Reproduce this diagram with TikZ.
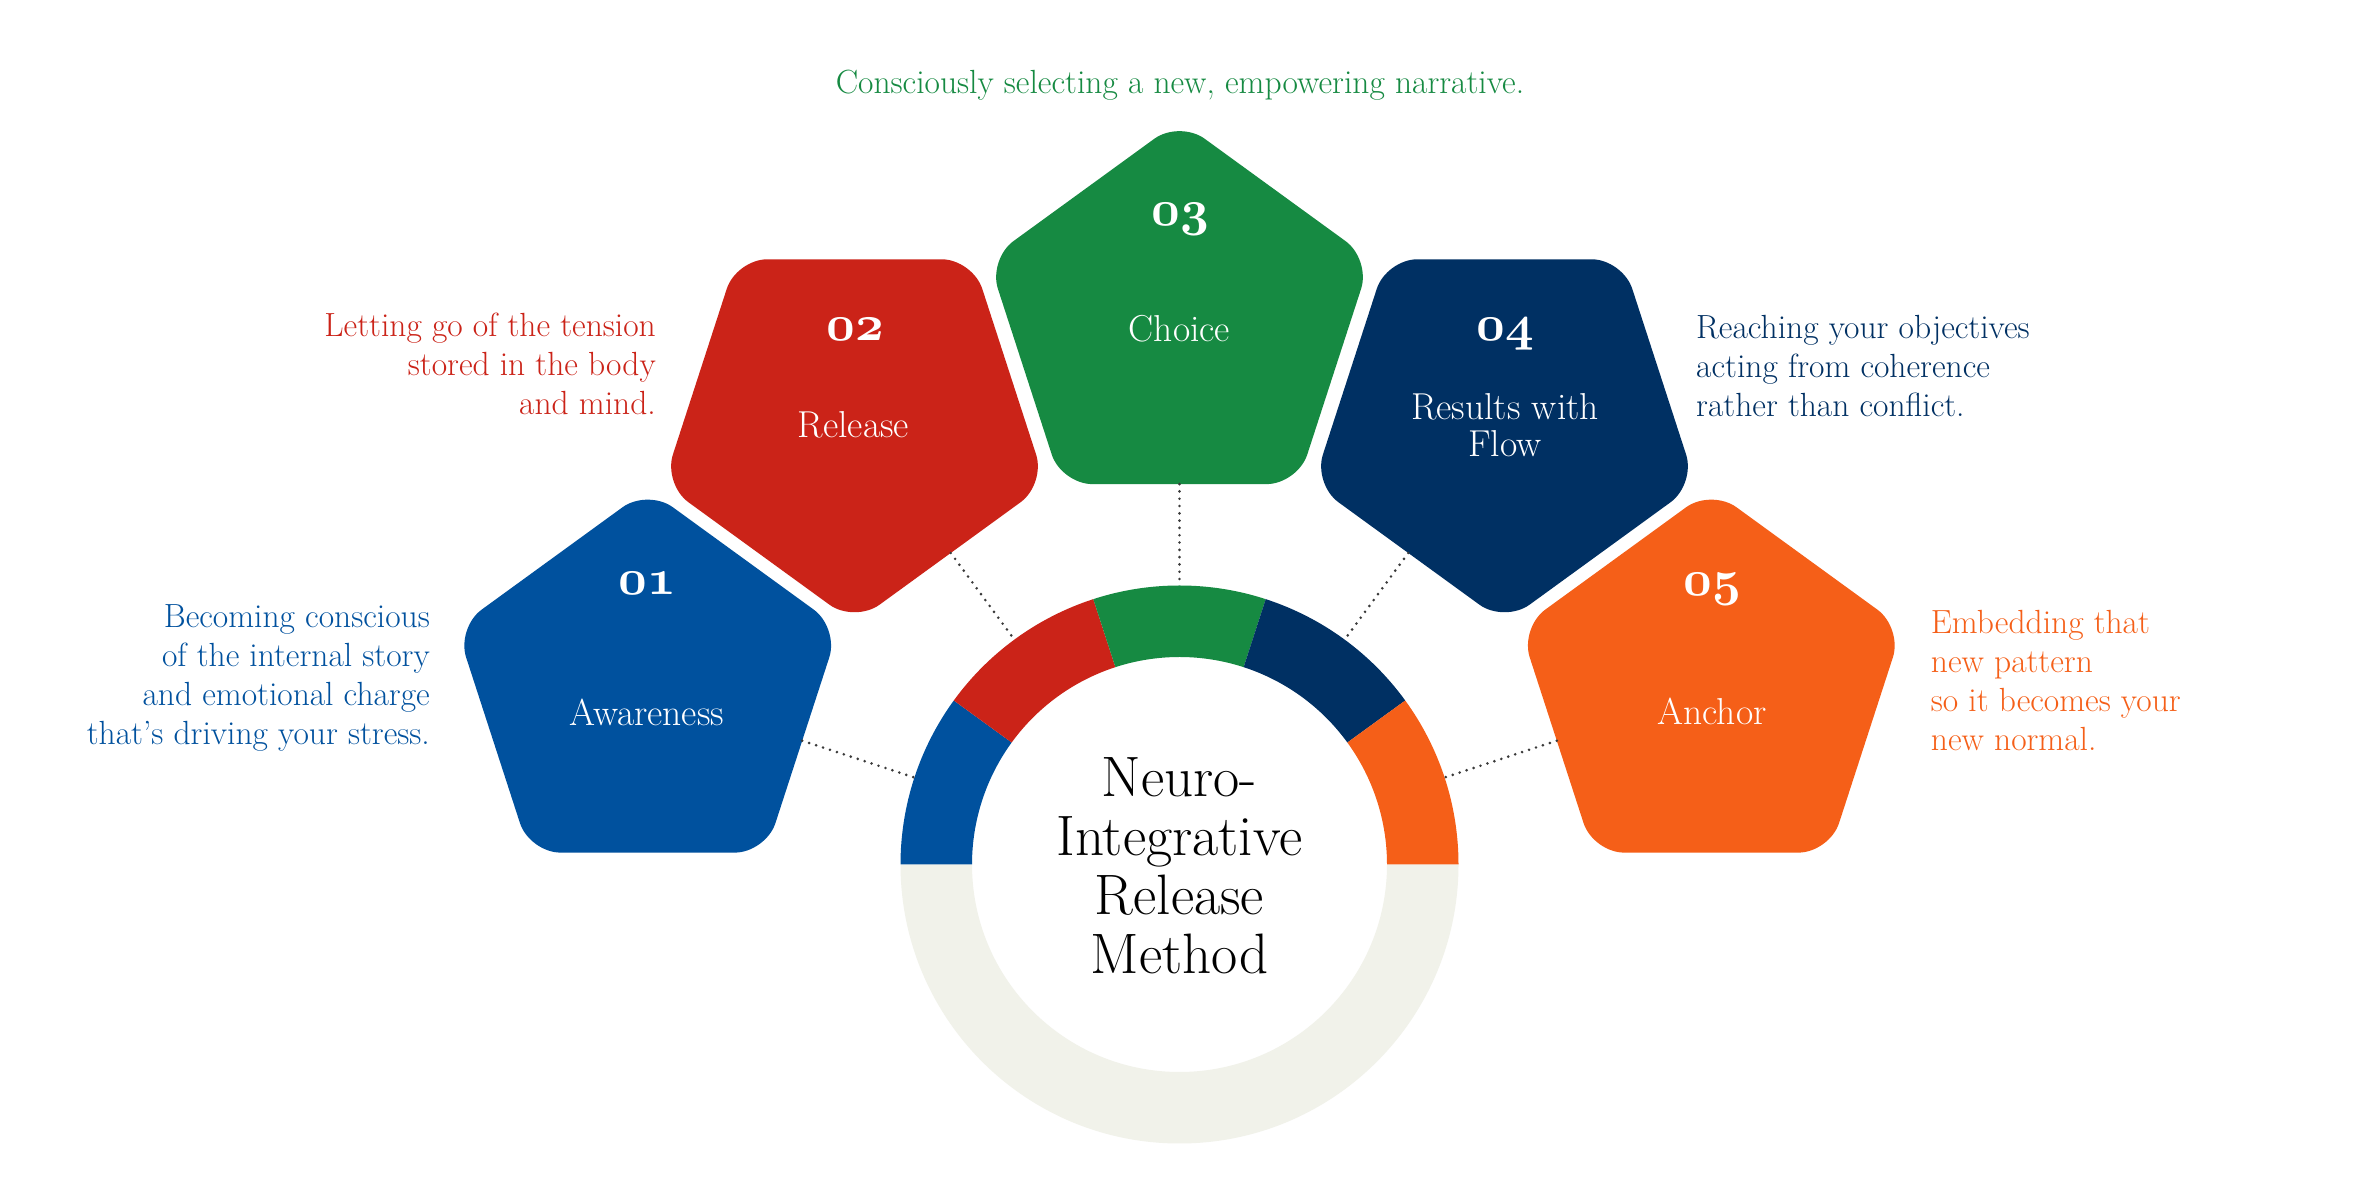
\documentclass[tikz,border=0pt]{standalone}
\usepackage{fix-cm}
\usetikzlibrary{shapes.geometric}
\definecolor{cBlue}{HTML}{00519E}
\definecolor{cRed}{HTML}{CB2318}
\definecolor{cGreen}{HTML}{168A42}
\definecolor{cNavy}{HTML}{003063}
\definecolor{cOrange}{HTML}{F55F18}
\definecolor{cGrey}{HTML}{F1F2EA}
\definecolor{dotc}{HTML}{3A3A3A}
\newcommand\osnum[1]{{\usefont{OML}{cmm}{b}{it}#1}}
\tikzset{
  pent/.style={regular polygon, regular polygon sides=5, minimum size=402pt,
    inner sep=0pt, outer sep=0pt, rounded corners=31pt, draw=none},
  numlab/.style={text=white, font=\fontsize{50}{50}\selectfont, anchor=base, inner sep=0pt},
  ttl/.style={text=white, font=\fontsize{37.5}{37}\selectfont, anchor=base, inner sep=0pt, align=center},
  desc/.style={font=\fontsize{33.5}{39}\selectfont, inner sep=0pt},
  conn/.style={draw=dotc, line width=2.9pt, line cap=round, dash pattern=on 0pt off 7.3pt},
}
\begin{document}
\begin{tikzpicture}[x=1pt,y=1pt]
\useasboundingbox (0,0) rectangle (2359,1202);
\fill[white] (0,0) rectangle (2359,1202);
\coordinate (O) at (1179.5,337.5);
% ring
\fill[cGrey] ([shift={(O)}]180:279) arc[start angle=180,end angle=360,radius=279]
  -- ([shift={(O)}]0:207.5) arc[start angle=0,end angle=-180,radius=207.5] -- cycle;
\foreach \a/\b/\c in {144/180/cBlue,108/144/cRed,72/108/cGreen,36/72/cNavy,0/36/cOrange}{
  \fill[\c] ([shift={(O)}]\a:279) arc[start angle=\a,end angle=\b,radius=279]
    -- ([shift={(O)}]\b:207.5) arc[start angle=\b,end angle=\a,radius=207.5] -- cycle;
}
\node[circle, minimum size=558pt, inner sep=0pt, outer sep=0pt] (ring) at (O) {};
\node[font=\fontsize{57}{58.9}\selectfont, align=center, anchor=base, inner sep=0pt] (title)
  at (1179.5,228.7) {Neuro-\\Integrative\\Release\\Method};
% pentagons
\node[pent, fill=cBlue] (p1) at (647.7,512) {};
\node[pent, fill=cRed, shape border rotate=180] (p2) at (854.5,780.1) {};
\node[pent, fill=cGreen] (p3) at (1179.5,880.5) {};
\node[pent, fill=cNavy, shape border rotate=180] (p4) at (1504.5,780.1) {};
\node[pent, fill=cOrange] (p5) at (1711.3,512) {};
% connectors
\draw[conn] (p1) -- (ring);
\draw[conn] (p2) -- (ring);
\draw[conn] (p3) -- (ring);
\draw[conn] (p4) -- (ring);
\draw[conn] (p5) -- (ring);
% numbers
\node[numlab] (n1) at (647,607) {\osnum{01}};
\node[numlab] (n2) at (855,861.3) {\osnum{02}};
\node[numlab] (n3) at (1180,976) {\osnum{03}};
\node[numlab] (n4) at (1505,861.3) {\osnum{04}};
\node[numlab] (n5) at (1712.5,606) {\osnum{05}};
% titles
\node[ttl] (t1) at (647,476) {Awareness};
\node[ttl] (t2) at (853.5,764.7) {Release};
\node[ttl] (t3) at (1179.5,860.3) {Choice};
\node[ttl] (t4) at (1505,745.3) {Results with\\Flow};
\node[ttl] (t5) at (1712,477) {Anchor};
% descriptions
\node[desc, text=cBlue, align=right, anchor=base east] (d1) at (430,457)
  {Becoming conscious\\of the internal story\\and emotional charge\\that's driving your stress.};
\node[desc, text=cRed, align=right, anchor=base east] (d2) at (656,787)
  {Letting go of the tension\\stored in the body\hspace*{0.4em}\\and mind.};
\node[desc, text=cGreen, anchor=base] (d3) at (1180,1108)
  {Consciously selecting a new, empowering narrative.};
\node[desc, text=cNavy, align=left, anchor=base west] (d4) at (1696,785.3)
  {Reaching your objectives\\acting from coherence\\rather than conflict.};
\node[desc, text=cOrange, align=left, anchor=base west] (d5) at (1930.7,451.3)
  {Embedding that\\new pattern\\so it becomes your\\new normal.};
\end{tikzpicture}
\end{document}
